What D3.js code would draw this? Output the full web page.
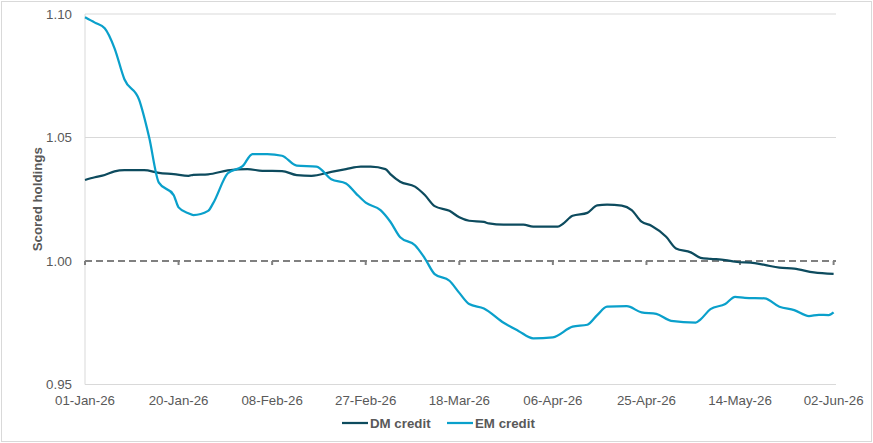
<!DOCTYPE html>
<html>
<head>
    <script src="https://d3js.org/d3.v7.min.js"></script>
    <style>
        body { margin: 0; background: #fff; }
        text { font-family: "Liberation Sans", Arial, sans-serif; }
    </style>
</head>
<body>
    <div id="chart"></div>

    <script>
        // DM credit readings (date, score)
        const dmDates = ["2026-01-01","2026-01-03","2026-01-05","2026-01-07","2026-01-09","2026-01-13","2026-01-16","2026-01-19","2026-01-22","2026-01-23","2026-01-26","2026-01-30","2026-02-03","2026-02-06","2026-02-10","2026-02-13","2026-02-16","2026-02-20","2026-02-23","2026-02-26","2026-02-28","2026-03-03","2026-03-04","2026-03-06","2026-03-09","2026-03-11","2026-03-13","2026-03-16","2026-03-18","2026-03-20","2026-03-23","2026-03-24","2026-03-27","2026-03-31","2026-04-02","2026-04-07","2026-04-08","2026-04-10","2026-04-13","2026-04-15","2026-04-17","2026-04-20","2026-04-22","2026-04-24","2026-04-26","2026-04-29","2026-05-01","2026-05-04","2026-05-06","2026-05-08","2026-05-11","2026-05-13","2026-05-17","2026-05-19","2026-05-22","2026-05-25","2026-05-29","2026-06-02"];
        const dmValues = [1.0328,1.0339,1.0348,1.0363,1.0368,1.0368,1.0357,1.0352,1.0345,1.0349,1.0351,1.0367,1.0372,1.0365,1.0364,1.0348,1.0345,1.0361,1.0372,1.0382,1.0382,1.0372,1.0352,1.0321,1.0301,1.0267,1.0222,1.0203,1.0177,1.0163,1.0158,1.0152,1.0147,1.0147,1.0139,1.0139,1.0150,1.0183,1.0195,1.0225,1.0228,1.0224,1.0206,1.0159,1.0143,1.0098,1.0051,1.0035,1.0013,1.0009,1.0004,0.9997,0.9991,0.9984,0.9973,0.9969,0.9954,0.9948];

        // EM credit readings (date, score)
        const emDates = ["2026-01-01","2026-01-03","2026-01-05","2026-01-07","2026-01-09","2026-01-12","2026-01-14","2026-01-16","2026-01-19","2026-01-20","2026-01-22","2026-01-23","2026-01-26","2026-01-27","2026-01-30","2026-02-02","2026-02-04","2026-02-07","2026-02-10","2026-02-13","2026-02-17","2026-02-20","2026-02-23","2026-02-25","2026-02-27","2026-03-02","2026-03-04","2026-03-06","2026-03-09","2026-03-11","2026-03-13","2026-03-16","2026-03-18","2026-03-20","2026-03-23","2026-03-27","2026-03-30","2026-04-02","2026-04-06","2026-04-10","2026-04-13","2026-04-15","2026-04-17","2026-04-21","2026-04-24","2026-04-27","2026-04-30","2026-05-05","2026-05-06","2026-05-08","2026-05-11","2026-05-13","2026-05-15","2026-05-19","2026-05-22","2026-05-25","2026-05-28","2026-05-30","2026-06-01","2026-06-02"];
        const emValues = [1.0987,1.0965,1.0942,1.0861,1.0736,1.0652,1.0503,1.0317,1.0267,1.0217,1.0193,1.0186,1.0203,1.0233,1.0355,1.0384,1.0433,1.0433,1.0426,1.0386,1.0382,1.0331,1.0314,1.0274,1.0236,1.0206,1.0159,1.0096,1.0064,1.0011,0.9947,0.9920,0.9871,0.9826,0.9808,0.9750,0.9717,0.9687,0.9691,0.9734,0.9742,0.9781,0.9815,0.9817,0.9792,0.9786,0.9758,0.9751,0.9764,0.9805,0.9826,0.9855,0.9851,0.9849,0.9815,0.9801,0.9777,0.9782,0.9781,0.9792];

        // Axis ticks
        const yTicks = [0.95, 1.00, 1.05, 1.10];
        const xTickDates = ["2026-01-01","2026-01-20","2026-02-08","2026-02-27","2026-03-18","2026-04-06","2026-04-25","2026-05-14","2026-06-02"];

        const seriesNames = ["DM credit", "EM credit"];
        const colors = ["#0d4b5e", "#0aa0cb"];

        const parse = d3.timeParse("%Y-%m-%d");
        const fmt = d3.timeFormat("%d-%b-%y");

        const series = [
            { name: seriesNames[0], color: colors[0], pts: dmDates.map((d, i) => ({ date: parse(d), v: dmValues[i] })) },
            { name: seriesNames[1], color: colors[1], pts: emDates.map((d, i) => ({ date: parse(d), v: emValues[i] })) }
        ];

        const width = 873, height = 443;
        const plotLeft = 85, plotRight = 833.6, plotTop = 14, plotBottom = 384.5;

        const svg = d3.select("#chart").append("svg")
            .attr("width", width)
            .attr("height", height);

        // outer frame
        svg.append("rect")
            .attr("x", 1.5).attr("y", 1.5)
            .attr("width", width - 3).attr("height", height - 3)
            .attr("fill", "#fff")
            .attr("stroke", "#d9d9d9");

        const x = d3.scaleTime()
            .domain([parse(xTickDates[0]), parse(xTickDates[xTickDates.length - 1])])
            .range([plotLeft, plotRight]);

        const y = d3.scaleLinear()
            .domain([0.95, 1.10])
            .range([plotBottom, plotTop]);

        // gridlines (1.00 is drawn as the dashed axis line)
        svg.append("g")
            .selectAll("line")
            .data(yTicks.filter(t => t !== 1.00))
            .enter()
            .append("line")
            .attr("x1", plotLeft).attr("x2", 836)
            .attr("y1", d => y(d)).attr("y2", d => y(d))
            .attr("stroke", "#d9d9d9")
            .attr("stroke-width", 1);

        // left axis line
        svg.append("line")
            .attr("x1", plotLeft).attr("x2", plotLeft)
            .attr("y1", plotTop).attr("y2", plotBottom)
            .attr("stroke", "#d9d9d9");

        // y tick labels
        const yAxis = d3.axisLeft(y)
            .tickValues(yTicks)
            .tickFormat(d3.format(".2f"))
            .tickSize(0)
            .tickPadding(13);
        const yg = svg.append("g")
            .attr("transform", `translate(${plotLeft},0)`)
            .call(yAxis);
        yg.select(".domain").remove();
        yg.selectAll("text")
            .attr("fill", "#595959")
            .style("font-size", "13.3px")
            .style("font-family", "Liberation Sans, Arial, sans-serif");

        // dashed horizontal axis at 1.00 with tick marks
        const axisY = y(1.00);
        svg.append("line")
            .attr("x1", plotLeft).attr("x2", 836)
            .attr("y1", axisY).attr("y2", axisY)
            .attr("stroke", "#808080")
            .attr("stroke-width", 2)
            .attr("stroke-dasharray", "7,4");
        svg.append("g")
            .selectAll("line")
            .data(xTickDates)
            .enter()
            .append("line")
            .attr("x1", d => x(parse(d))).attr("x2", d => x(parse(d)))
            .attr("y1", axisY).attr("y2", axisY + 4)
            .attr("stroke", "#808080")
            .attr("stroke-width", 2);

        // x tick labels at bottom
        svg.append("g")
            .selectAll("text")
            .data(xTickDates)
            .enter()
            .append("text")
            .attr("x", d => x(parse(d)))
            .attr("y", 404.5)
            .attr("text-anchor", "middle")
            .attr("fill", "#595959")
            .style("font-size", "13.3px")
            .text(d => fmt(parse(d)));

        // lines
        const line = d3.line()
            .x(d => x(d.date))
            .y(d => y(d.v))
            .curve(d3.curveMonotoneX);

        svg.append("g")
            .selectAll("path")
            .data(series)
            .enter()
            .append("path")
            .attr("d", d => line(d.pts))
            .attr("fill", "none")
            .attr("stroke", d => d.color)
            .attr("stroke-width", 2.25)
            .attr("stroke-linejoin", "round");

        // y title
        svg.append("text")
            .attr("transform", `translate(42,${(plotTop + plotBottom) / 2}) rotate(-90)`)
            .attr("text-anchor", "middle")
            .attr("fill", "#595959")
            .style("font-size", "13.3px")
            .style("font-weight", "bold")
            .text("Scored holdings");

        // legend
        const legendX = [342, 447];
        const lg = svg.append("g")
            .selectAll("g")
            .data(series)
            .enter()
            .append("g")
            .attr("transform", (d, i) => `translate(${legendX[i]},423)`);
        lg.append("line")
            .attr("x1", 0).attr("x2", 26)
            .attr("y1", 0).attr("y2", 0)
            .attr("stroke", d => d.color)
            .attr("stroke-width", 2.25);
        lg.append("text")
            .attr("x", 28)
            .attr("y", 4.8)
            .attr("fill", "#595959")
            .style("font-size", "13.3px")
            .style("font-weight", "bold")
            .text(d => d.name);
    </script>
</body>
</html>
